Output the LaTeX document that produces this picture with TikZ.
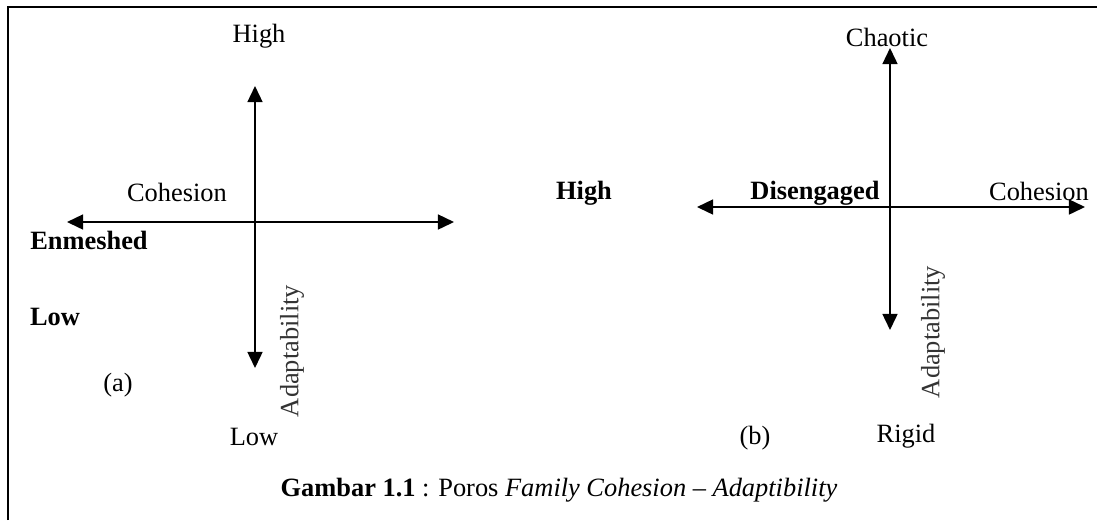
\documentclass[tikz,border=0pt]{standalone}
\usepackage{fontspec}
\setmainfont{Liberation Serif}
\usetikzlibrary{arrows.meta}
\tikzset{
    fcaxis/.style={{Triangle[length=7.3pt,width=6.8pt]}-{Triangle[length=7.3pt,width=6.8pt]}, line width=0.8pt},
    fclabel/.style={inner sep=0pt, font=\fontsize{12}{14}\selectfont},
    fcpole/.style={inner sep=0pt, font=\fontsize{12}{14}\selectfont\bfseries},
    fcvert/.style={fclabel, rotate=90, text=black!80},
    fcframe/.style={line width=1pt}
}
\begin{document}
\begin{tikzpicture}[x=0.4545pt, y=-0.4545pt]
  \useasboundingbox (0,0) rectangle (1097,520);
  \draw[fcframe] (8,520) -- (8,7) -- (1097,7);
  % (a): axis ends
  \coordinate (aN) at (255,86);
  \coordinate (aS) at (255,368);
  \coordinate (aW) at (67,222);
  \coordinate (aE) at (454,222);
  \draw[fcaxis] (aS) -- (aN);
  \draw[fcaxis] (aW) -- (aE);
  \node[fclabel] (aHigh)  at (259,36)  {High};
  \node[fclabel] (aCoh)   at (177,192) {Cohesion};
  \node[fcpole]  (aEnm)   at (89,240)  {Enmeshed};
  \node[fcpole]  (aLowB)  at (55,317)  {Low};
  \node[fclabel] (aTag)   at (118,385) {(a)};
  \node[fcvert]  (aAdapt) at (292,351) {Adaptability};
  \node[fclabel] (aLow)   at (254,437) {Low};
  % (b): axis ends
  \coordinate (bN) at (890,48);
  \coordinate (bS) at (890,330);
  \coordinate (bW) at (697,207);
  \coordinate (bE) at (1085,207);
  \draw[fcaxis] (bS) -- (bN);
  \draw[fcaxis] (bW) -- (bE);
  \node[fclabel] (bChaos) at (887,37)  {Chaotic};
  \node[fcpole]  (bHigh)  at (584,193) {High};
  \node[fcpole]  (bDis)   at (815,193) {Disengaged};
  \node[fclabel] (bCoh)   at (1039,191) {Cohesion};
  \node[fcvert]  (bAdapt) at (933,332) {Adaptability};
  \node[fclabel] (bTag)   at (755,438) {(b)};
  \node[fclabel] (bRigid) at (906,436) {Rigid};
  % caption
  \node[fclabel] (cap) at (559,490)
        {\textbf{Gambar 1.1} : Poros \textit{Family Cohesion – Adaptibility}};
\end{tikzpicture}
\end{document}
